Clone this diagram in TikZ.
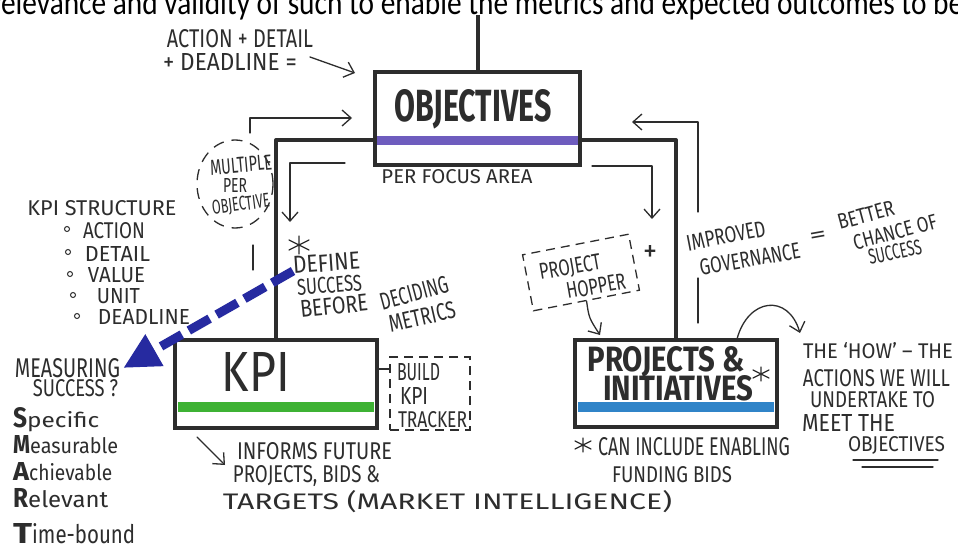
\documentclass[tikz,border=0pt]{standalone}
\usepackage{fontspec}
\usepackage{graphicx}
\setmainfont{Fira Sans}
\newfontfamily\topfont{Carlito}
\usetikzlibrary{arrows.meta,shapes.geometric}
\definecolor{ink}{RGB}{45,45,45}
\definecolor{objpurple}{RGB}{110,92,190}
\definecolor{kpigreen}{RGB}{62,178,52}
\definecolor{projblue}{RGB}{48,132,200}
\definecolor{arrowblue}{RGB}{38,42,160}
\newcommand\hw[3]{\resizebox{#1pt}{#2pt}{#3}}
\tikzset{
  hand/.style={inner sep=0pt, text=ink},
  bigbox/.style={draw=ink, line width=4pt, rectangle, inner sep=0pt},
  mainline/.style={draw=ink, line width=4pt, line join=round},
  thinline/.style={draw=ink, line width=1.3pt, line cap=round, line join=round},
  barb/.style={-{Straight Barb[length=9pt,width=16pt,line width=1.3pt]}},
  dashbox/.style={draw=ink, line width=1.3pt, dash pattern=on 9pt off 6pt, inner sep=0pt},
  bulletdot/.style={circle, draw=ink, line width=1pt, inner sep=0pt, minimum size=5pt},
  astk/.pic={\draw[ink, line width=1.3pt, line cap=round] (0,-9) -- (0,9) (-10,-5) -- (10,5) (-10,5) -- (10,-5);},
  astks/.pic={\draw[ink, line width=1.2pt, line cap=round] (0,-7) -- (0,7) (-8,-4) -- (8,4) (-8,4) -- (8,-4);}
}
\begin{document}
\begin{tikzpicture}[x=1pt,y=-1pt]
\useasboundingbox (0,0) rectangle (958,551);
\fill[white] (0,0) rectangle (958,551);
\begin{scope}
  \clip (0,0) rectangle (958,551);
  \node[anchor=base west, inner sep=0pt, font=\topfont] (toptext) at (-9,15)
    {\resizebox{972pt}{24pt}{relevance and validity of such to enable the metrics and expected outcomes to be}};
\end{scope}

% ---------- main boxes ----------
\node[bigbox, minimum width=205pt, minimum height=93pt] (obj) at (477.5,118.5) {};
\fill[objpurple] (377,136) rectangle (578,145);
\node[hand] (objt) at (473,109) {\hw{157}{32}{\bfseries OBJECTIVES}};

\node[bigbox, minimum width=202pt, minimum height=88pt] (kpi) at (276,384) {};
\fill[kpigreen] (178,402) rectangle (374,412);
\node[hand] (kpit) at (256,372) {\hw{68}{39}{KPI}};

\node[bigbox, minimum width=202pt, minimum height=87pt] (proj) at (676,383.5) {};
\fill[projblue] (578,402) rectangle (774,412);
\node[hand] (projt1) at (666,362) {\hw{157}{25}{\bfseries PROJECTS \&}};
\node[hand] (projt2) at (678,388) {\hw{150}{25}{\bfseries INITIATIVES}};
\pic (ast2) at (761,374) {astks};

% ---------- main connectors ----------
\coordinate (topend) at (477.5,15);
\coordinate (lcorner) at (276,140);
\coordinate (rcorner) at (676,140);
\draw[mainline] (topend) -- (obj.north);
\draw[mainline] (obj.west |- lcorner) -- (lcorner) -- (kpi.north);
\draw[mainline] (obj.east |- rcorner) -- (rcorner) -- (proj.north);

% ---------- top-left notes ----------
\node[hand] (act1) at (240,39) {\hw{146}{18}{ACTION + DETAIL}};
\node[hand] (act2) at (230,62) {\hw{134}{17}{+ DEADLINE =}};
\coordinate (a1s) at (310,57);
\draw[thinline, barb] (a1s) -- ([xshift=-18pt,yshift=-3pt]obj.north west);

\node[hand] (pfa) at (457,177) {\hw{151}{14}{PER FOCUS AREA}};

\node[ellipse, draw=ink, line width=1.3pt, dash pattern=on 11pt off 8pt, minimum width=76pt, minimum height=88pt, inner sep=0pt] (mult) at (235,184) {};
\node[hand, rotate=5] (mu1) at (241,165) {\hw{62}{15}{MULTIPLE}};
\node[hand] (mu2) at (235,185) {\hw{24}{14}{PER}};
\node[hand, rotate=7] (mu3) at (241,205) {\hw{58}{14}{OBJECTIVE}};
\coordinate (m1s) at (250,133);
\coordinate (m1c) at (250,118);
\coordinate (m1e) at (352,118);
\draw[thinline, barb] (m1s) -- (m1c) -- (m1e);
\coordinate (mls) at (253,245);
\coordinate (mle) at (253,270);
\draw[thinline] (mls) -- (mle);

% ---------- KPI structure ----------
\node[hand] (ks) at (102,208) {\hw{149}{15}{KPI STRUCTURE}};
\node[bulletdot] (bl1) at (67,229) {};
\node[bulletdot] (bl2) at (68,252) {};
\node[bulletdot] (bl3) at (70,274) {};
\node[bulletdot] (bl4) at (73,295) {};
\node[bulletdot] (bl5) at (77,316) {};
\node[hand] (k1) at (114,231) {\hw{62}{16}{ACTION}};
\node[hand] (k2) at (117.5,254) {\hw{65}{15}{DETAIL}};
\node[hand] (k3) at (116.5,275) {\hw{57}{15}{VALUE}};
\node[hand] (k4) at (118.5,296) {\hw{43}{15}{UNIT}};
\node[hand] (k5) at (144,317) {\hw{92}{15}{DEADLINE}};

% ---------- measuring success ----------
\node[hand] (meas) at (67.5,368) {\hw{105}{19}{MEASURING}};
\node[hand] (succ) at (75.5,388) {\hw{85}{17}{SUCCESS ?}};
\node[hand, anchor=base west] (sm1) at (13,427) {\hw{14}{20}{\bfseries S}\hw{72}{16}{pecific}};
\node[hand, anchor=base west] (sm2) at (13,453) {\hw{17}{18}{\bfseries M}\hw{88}{16}{easurable}};
\node[hand, anchor=base west] (sm3) at (13,480) {\hw{16}{18}{\bfseries A}\hw{83}{17}{chievable}};
\node[hand, anchor=base west] (sm4) at (13,507) {\hw{15}{19}{\bfseries R}\hw{80}{17}{elevant}};
\node[hand, anchor=base west] (sm5) at (13,543) {\hw{19}{20}{\bfseries T}\hw{103}{20}{ime-bound}};

\coordinate (bs) at (293,271);
\draw[draw=arrowblue, line width=9pt, dash pattern=on 24pt off 8pt,
      -{Triangle[length=36pt,width=34pt]}] (bs) -- ([xshift=3pt]meas.east);

% ---------- define success ----------
\coordinate (d1s) at (345,163);
\coordinate (d1c) at (290,163);
\coordinate (d1e) at (290,222);
\draw[thinline, barb] (d1s) -- (d1c) -- (d1e);
\pic (ast1) at (299,245) {astk};
\node[hand, rotate=4] (def1) at (326.5,263) {\hw{67}{17}{DEFINE}};
\node[hand, rotate=4] (def2) at (329.5,285) {\hw{65}{16}{SUCCESS}};
\node[hand, rotate=6] (def3) at (334,306) {\hw{68}{17}{BEFORE}};
\node[hand, rotate=15] (def4) at (414,293) {\hw{70}{17}{DECIDING}};
\node[hand, rotate=13] (def5) at (422,317) {\hw{68}{17}{METRICS}};

% ---------- KPI tracker ----------
\node[dashbox, minimum width=80pt, minimum height=73pt] (trk) at (430,393.5) {};
\coordinate (trkjoin) at (390,369);
\draw[thinline] (kpi.east |- trkjoin) -- (trkjoin);
\node[hand] (b1) at (418.5,372) {\hw{43}{17}{BUILD}};
\node[hand] (b2) at (414,396) {\hw{28}{17}{KPI}};
\node[hand] (b3) at (432.5,420) {\hw{69}{16}{TRACKER}};

\coordinate (ia) at (197,437);
\coordinate (ib) at (225,465);
\draw[thinline, barb] (ia) -- (ib);
\node[hand] (inf1) at (314.5,451) {\hw{155}{17}{INFORMS FUTURE}};
\node[hand] (inf2) at (306.5,476) {\hw{147}{17}{PROJECTS, BIDS \&}};
\node[hand] (inf3) at (447.5,502) {\hw{449}{19}{TARGETS (MARKET INTELLIGENCE)}};

% ---------- project hopper ----------
\coordinate (r1s) at (592,166);
\coordinate (r1c) at (652,166);
\coordinate (r1e) at (652,219);
\draw[thinline, barb] (r1s) -- (r1c) -- (r1e);
\node[dashbox, rotate=11, minimum width=108pt, minimum height=57pt] (hop) at (581,272.5) {};
\node[hand, rotate=10] (hop1) at (570,268) {\hw{62}{16}{PROJECT}};
\node[hand, rotate=10] (hop2) at (596,286) {\hw{60}{16}{HOPPER}};
\node[hand] (plus) at (650,253) {\hw{14}{16}{+}};
\coordinate (hopin) at (600,335);
\draw[thinline, barb] (hop.south) .. controls (589,318) .. (hopin);

% ---------- governance ----------
\coordinate (g1s) at (698,212);
\coordinate (g1c) at (698,122);
\coordinate (g1e) at (632,122);
\draw[thinline, barb] (g1s) -- (g1c) -- (g1e);
\coordinate (g2s) at (698,278);
\coordinate (g2e) at (698,323);
\draw[thinline] (g2s) -- (g2e);
\node[hand, rotate=11] (imp1) at (726,236) {\hw{80}{16}{IMPROVED}};
\node[hand, rotate=10] (imp2) at (750,259) {\hw{102}{16}{GOVERNANCE}};
\node[hand, rotate=10] (eq) at (818,237) {\hw{17}{10}{=}};
\node[hand, rotate=15] (bet1) at (866,215) {\hw{58}{15}{BETTER}};
\node[hand, rotate=15] (bet2) at (895,232) {\hw{86}{15}{CHANCE OF}};
\node[hand, rotate=12] (bet3) at (895,252) {\hw{54}{15}{SUCCESS}};

% ---------- the how ----------
\coordinate (pc1) at (737,339);
\coordinate (pc2) at (800,333);
\draw[thinline, barb] (pc1) .. controls (748,298) and (788,293) .. (pc2);
\node[hand] (how1) at (878,351) {\hw{150}{16}{THE ‘HOW’ -- THE}};
\node[hand] (how2) at (876.5,378) {\hw{147}{17}{ACTIONS WE WILL}};
\node[hand] (how3) at (872.5,400) {\hw{125}{16}{UNDERTAKE TO}};
\node[hand] (how4) at (848.5,423) {\hw{93}{17}{MEET THE}};
\node[hand] (how5) at (896.5,445) {\hw{97}{15}{OBJECTIVES}};
\draw[thinline] (853,460) -- (938,460);
\draw[thinline] (862,467) -- (933,467);

% ---------- can include ----------
\pic (ast3) at (583,445) {astks};
\node[hand] (can1) at (694,447) {\hw{192}{18}{CAN INCLUDE ENABLING}};
\node[hand] (can2) at (672,475) {\hw{120}{16}{FUNDING BIDS}};
\end{tikzpicture}
\end{document}
